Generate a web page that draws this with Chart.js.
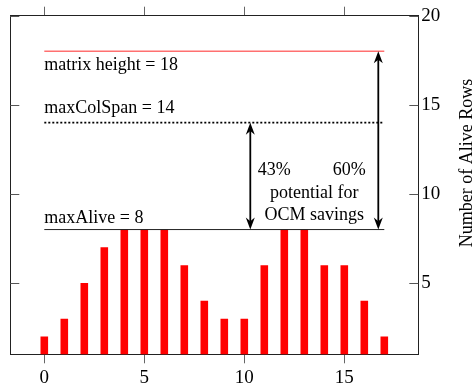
<html>
<head>
  <meta charset="utf-8" />
  <style>
    body { margin: 0; background: #fff; }
    #wrap { width: 475px; height: 389px; }
  </style>
</head>
<body>
  <script src="https://cdn.jsdelivr.net/npm/chart.js@4.4.0/dist/chart.umd.min.js"></script>
  <div id="wrap"><canvas id="aliveRows" width="475" height="389"></canvas></div>
  <script>
    // column index and number of alive rows per column
    const columns = [0, 1, 2, 3, 4, 5, 6, 7, 8, 9, 10, 11, 12, 13, 14, 15, 16, 17];
    const aliveRows = [2, 3, 5, 7, 8, 8, 8, 6, 4, 3, 3, 6, 8, 8, 6, 6, 4, 2];

    // reference levels
    const matrixHeight = 18;
    const maxColSpan = 14;
    const maxAlive = 8;

    // savings arrows (column position of each arrow, top level)
    const arrowCols = [10.3, 16.7];
    const arrowTops = [maxColSpan, matrixHeight];

    // axis ticks
    const xTicks = [0, 5, 10, 15];
    const yTicks = [5, 10, 15, 20];

    const serif = '"Liberation Serif", "Times New Roman", serif';
    Chart.defaults.font.family = serif;
    Chart.defaults.color = '#000';

    function level(value) {
      return [{ x: columns[0], y: value }, { x: columns[columns.length - 1], y: value }];
    }

    function fixedTicks(list) {
      return function (axis) { axis.ticks = list.map(v => ({ value: v })); };
    }

    function arrowHead(ctx, x, y, dir) {
      // stealth style head, tip at (x, y), dir = 1 points down, -1 points up
      const len = 12, half = 4.5;
      ctx.beginPath();
      ctx.moveTo(x, y);
      ctx.lineTo(x - half, y - dir * len);
      ctx.lineTo(x, y - dir * len * 0.7);
      ctx.lineTo(x + half, y - dir * len);
      ctx.closePath();
      ctx.fill();
    }

    const extras = {
      id: 'extras',
      afterDatasetsDraw(chart) {
        const { ctx, chartArea, scales } = chart;
        const x = scales.x, y = scales.y;
        ctx.save();

        // inner tick marks on both vertical sides
        ctx.strokeStyle = '#555';
        ctx.lineWidth = 1;
        yTicks.forEach(v => {
          const py = Math.round(y.getPixelForValue(v)) + 0.5;
          ctx.beginPath();
          ctx.moveTo(chartArea.left, py);
          ctx.lineTo(chartArea.left + 9, py);
          ctx.moveTo(chartArea.right, py);
          ctx.lineTo(chartArea.right - 9, py);
          ctx.stroke();
        });

        // double headed arrows between the levels
        ctx.strokeStyle = '#000';
        ctx.fillStyle = '#000';
        ctx.lineWidth = 1.8;
        const bottom = y.getPixelForValue(maxAlive);
        arrowCols.forEach((c, i) => {
          const px = x.getPixelForValue(c);
          const top = y.getPixelForValue(arrowTops[i]);
          ctx.beginPath();
          ctx.moveTo(px, top + 8);
          ctx.lineTo(px, bottom - 8);
          ctx.stroke();
          arrowHead(ctx, px, top, -1);
          arrowHead(ctx, px, bottom, 1);
        });

        // level labels
        ctx.font = '18px ' + serif;
        ctx.textBaseline = 'alphabetic';
        ctx.textAlign = 'left';
        const x0 = x.getPixelForValue(columns[0]);
        ctx.fillText('matrix height = ' + matrixHeight, x0, y.getPixelForValue(matrixHeight) + 19);
        ctx.fillText('maxColSpan = ' + maxColSpan, x0, y.getPixelForValue(maxColSpan) - 10);
        ctx.fillText('maxAlive = ' + maxAlive, x0, bottom - 7);

        // savings note between the arrows
        const a1 = x.getPixelForValue(arrowCols[0]);
        const a2 = x.getPixelForValue(arrowCols[1]);
        const mid = (a1 + a2) / 2;
        ctx.textAlign = 'center';
        ctx.fillText('43%', a1 + 24, bottom - 55);
        ctx.fillText('60%', a2 - 29, bottom - 55);
        ctx.fillText('potential for', mid, bottom - 32);
        ctx.fillText('OCM savings', mid, bottom - 10);

        // right axis title, reading bottom to top
        ctx.font = '18px ' + serif;
        ctx.textBaseline = 'middle';
        ctx.translate(467, (chartArea.top + chartArea.bottom) / 2 - 22);
        ctx.rotate(-Math.PI / 2);
        ctx.fillText('Number of Alive Rows', 0, 0);
        ctx.restore();
      }
    };

    const xRange = { min: -1.7, max: 18.7 };
    const yRange = { min: 1, max: 20 };

    new Chart(document.getElementById('aliveRows'), {
      type: 'bar',
      data: {
        datasets: [
          {
            type: 'line',
            data: level(matrixHeight),
            borderColor: '#ff7070',
            borderWidth: 1.5,
            pointRadius: 0,
          },
          {
            type: 'line',
            data: level(maxColSpan),
            borderColor: '#000',
            borderWidth: 1.8,
            borderDash: [2, 2],
            pointRadius: 0,
          },
          {
            type: 'line',
            data: level(maxAlive),
            borderColor: '#222',
            borderWidth: 1,
            pointRadius: 0,
          },
          {
            data: columns.map((c, i) => ({ x: c, y: aliveRows[i] })),
            backgroundColor: '#ff0000',
            barPercentage: 0.38,
            categoryPercentage: 1,
          },
        ],
      },
      options: {
        responsive: false,
        animation: false,
        layout: { padding: 0 },
        plugins: { legend: { display: false }, tooltip: { enabled: false } },
        scales: {
          x: {
            type: 'linear', position: 'bottom', ...xRange,
            offset: false,
            afterBuildTicks: fixedTicks(xTicks),
            afterFit: s => { s.height = 34.7; },
            grid: { drawOnChartArea: false, offset: false, tickLength: 9, color: '#666' },
            border: { color: '#222', width: 1 },
            ticks: { font: { size: 19 }, padding: 3, maxRotation: 0 },
          },
          xTop: {
            type: 'linear', position: 'top', ...xRange,
            offset: false,
            afterBuildTicks: fixedTicks(xTicks),
            afterFit: s => { s.height = 15.7; },
            grid: { drawOnChartArea: false, offset: false, tickLength: 9, color: '#666' },
            border: { color: '#222', width: 1 },
            ticks: { display: false },
          },
          yLeft: {
            type: 'linear', position: 'left', ...yRange,
            afterFit: s => { s.width = 10.3; },
            grid: { drawOnChartArea: false, drawTicks: false },
            border: { color: '#222', width: 1 },
            ticks: { display: false },
          },
          y: {
            type: 'linear', position: 'right', ...yRange,
            beginAtZero: false,
            afterBuildTicks: fixedTicks(yTicks),
            afterFit: s => { s.width = 56.7; },
            grid: { drawOnChartArea: false, drawTicks: false },
            border: { color: '#222', width: 1 },
            ticks: { font: { size: 19 }, padding: 3 },
          },
        },
      },
      plugins: [extras],
    });
  </script>
</body>
</html>
